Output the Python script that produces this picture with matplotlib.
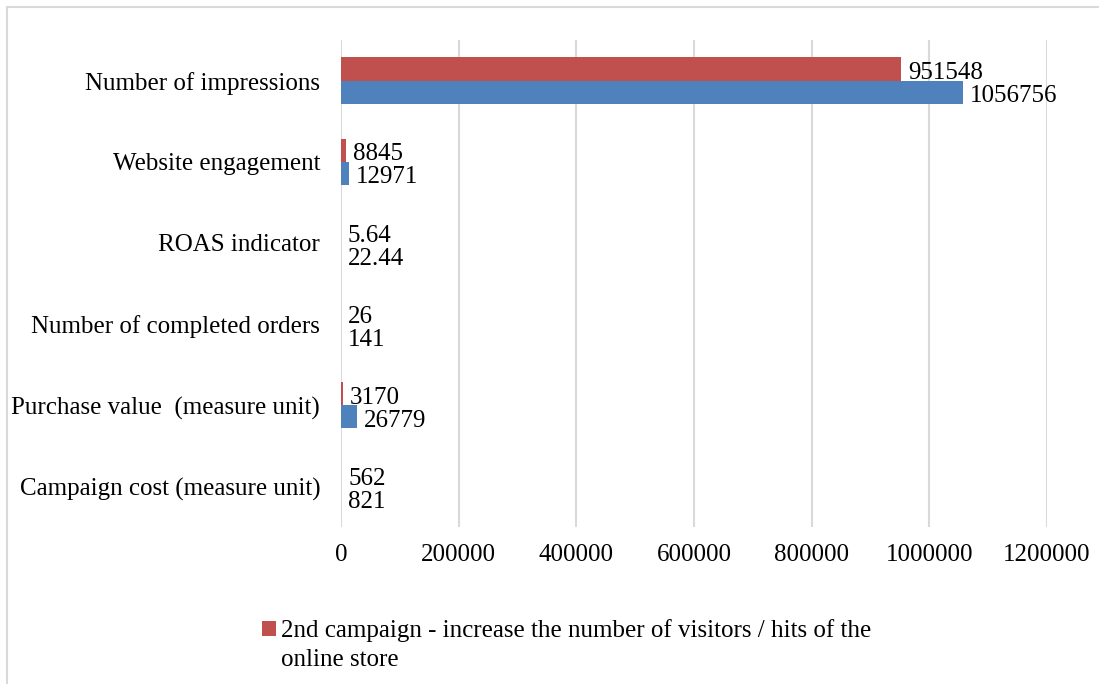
import numpy as np
import matplotlib
matplotlib.use("Agg")
import matplotlib.pyplot as plt
from matplotlib.patches import Rectangle

# data, listed bottom to top as drawn on the y axis
categories = [
    "Campaign cost (measure unit)",
    "Purchase value  (measure unit)",
    "Number of completed orders",
    "ROAS indicator",
    "Website engagement",
    "Number of impressions",
]
campaign2 = [562, 3170, 26, 5.64, 8845, 951548]
campaign1 = [821, 26779, 141, 22.44, 12971, 1056756]
campaign2_labels = ["562", "3170", "26", "5.64", "8845", "951548"]
campaign1_labels = ["821", "26779", "141", "22.44", "12971", "1056756"]
series2_name = "2nd campaign - increase the number of visitors / hits of the"
series2_name_cont = "online store"
xticks = [0, 200000, 400000, 600000, 800000, 1000000, 1200000]

RED = "#C0504D"
BLUE = "#4F81BD"
GRID = "#D9D9D9"

plt.rcParams["font.family"] = ["Liberation Serif", "DejaVu Serif"]
fs = 18

fig = plt.figure(figsize=(10.99, 6.84), dpi=100)
ax = fig.add_axes([341 / 1099, 1 - 527 / 684, (1047 - 341) / 1099, (527 - 40) / 684])

y = np.arange(len(categories))
h = 0.285
bars2 = ax.barh(y + h / 2, campaign2, height=h, color=RED, label=series2_name, zorder=3)
bars1 = ax.barh(y - h / 2, campaign1, height=h, color=BLUE, label="1st campaign", zorder=3)

for b, lab in zip(bars2, campaign2_labels):
    ax.annotate(lab, (b.get_width(), b.get_y() + b.get_height() / 2),
                xytext=(5, -3), textcoords="offset points",
                ha="left", va="center", fontsize=fs)
for b, lab in zip(bars1, campaign1_labels):
    ax.annotate(lab, (b.get_width(), b.get_y() + b.get_height() / 2),
                xytext=(5, -3), textcoords="offset points",
                ha="left", va="center", fontsize=fs)

ax.set_xlim(0, 1200000)
ax.set_ylim(-0.5, len(categories) - 0.5)
ax.set_xticks(xticks)
ax.set_xticklabels([str(t) for t in xticks], fontsize=fs)
ax.set_yticks(y)
ax.set_yticklabels(categories, fontsize=fs)
ax.tick_params(axis="both", length=0)
ax.tick_params(axis="x", pad=12)
ax.tick_params(axis="y", pad=15)
ax.grid(axis="x", color=GRID, linewidth=1.5, zorder=0)
for s in ax.spines.values():
    s.set_visible(False)

# legend shows only the 2nd campaign
leg = fig.legend(handles=[bars2], labels=[series2_name], loc="upper left",
                 bbox_to_anchor=(262 / 1099, 1 - 619 / 684), frameon=False,
                 fontsize=fs, handlelength=0.55, handleheight=0.55,
                 handletextpad=0.2, borderpad=0, borderaxespad=0)
fig.canvas.draw()
tb = leg.get_texts()[0].get_window_extent()
fig.text(tb.x0 / fig.bbox.width, (tb.y0 - 7) / fig.bbox.height, series2_name_cont,
         ha="left", va="top", fontsize=fs)

# light frame around chart area
fig.patches.append(Rectangle((7 / 1099, -0.01), 1.1, 1 - 7 / 684 + 0.01,
                             transform=fig.transFigure, fill=False,
                             edgecolor="#D9D9D9", linewidth=1.5))

fig.savefig("out.png", dpi=100)
